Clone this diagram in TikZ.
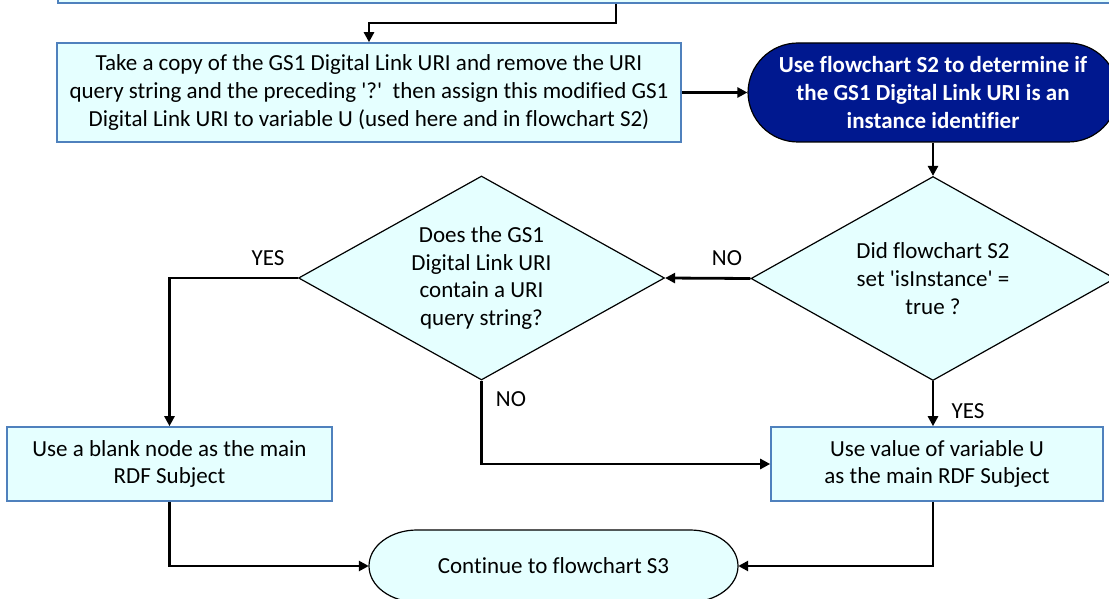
\documentclass[tikz,border=0pt]{standalone}
\usepackage{fontspec}
\setmainfont[Ligatures={TeX,NoCommon}]{Carlito}
\usetikzlibrary{shapes.geometric,arrows.meta}
\definecolor{cyanfill}{RGB}{229,255,255}
\definecolor{boxline}{RGB}{79,129,189}
\definecolor{navyfill}{RGB}{0,24,143}
\begin{document}
\begin{tikzpicture}[x=1pt,y=-1pt,
  font=\fontsize{23}{27.6}\selectfont,
  procbox/.style={draw=boxline,line width=1.6pt,fill=cyanfill,align=center,inner sep=0pt},
  decbox/.style={diamond,draw=black,line width=1.2pt,fill=cyanfill,align=center,inner sep=0pt,aspect=1.79},
  arr/.style={line width=2.8pt,-{Triangle[length=10pt,width=10pt]}},
  lbl/.style={inner sep=0pt}]
\useasboundingbox (0,0) rectangle (1109,599);
\clip (0,0) rectangle (1109,599);
% top (cut-off) box
\node[procbox,minimum width=1055pt,minimum height=60pt,anchor=south west] (top) at (57,4) {};
\node[procbox,minimum width=624pt,minimum height=99pt] (b1) at (369,92.5)
 {Take a copy of the GS1 Digital Link URI and remove the URI\\
  query string and the preceding \textquotesingle?\textquotesingle~~then assign this modified GS1\\
  Digital Link URI to variable U (used here and in flowchart S2)};
\node[draw=black,line width=1.2pt,fill=navyfill,text=white,font=\fontsize{23}{27.6}\selectfont\bfseries,
  rounded corners=50pt,minimum width=370pt,minimum height=99pt,align=center,inner sep=0pt] (t1) at (933,92.5)
 {Use flowchart S2 to determine if\\the GS1 Digital Link URI is an\\instance identifier};
\node[decbox,minimum width=364pt,minimum height=204pt] (d2) at (933,278.5)
 {Did flowchart S2\\set \textquotesingle isInstance\textquotesingle~=\\true ?};
\node[decbox,minimum width=366pt,minimum height=204pt] (d1) at (481.5,278)
 {Does the GS1\\Digital Link URI\\contain a URI\\query string?};
\node[procbox,minimum width=325pt,minimum height=74pt] (b3) at (169.5,464)
 {Use a blank node as the main\\RDF Subject};
\node[procbox,minimum width=332pt,minimum height=74pt] (b4) at (937,464)
 {Use value of variable U\\as the main RDF Subject};
% terminal with elliptical ends
\path[draw=black,line width=1.2pt,fill=cyanfill] (417,530) -- (690,530)
  arc[start angle=-90,end angle=90,x radius=48,y radius=36] -- (417,602)
  arc[start angle=90,end angle=270,x radius=48,y radius=36] -- cycle;
\node[align=center,minimum width=369pt,minimum height=72pt,inner sep=0pt] (t2) at (553.5,566) {Continue to flowchart S3};
% labels
\node[lbl] (yes1) at (268,258) {YES};
\node[lbl] (no1) at (727,258) {NO};
\node[lbl] (no2) at (511,399) {NO};
\node[lbl] (yes2) at (968,411) {YES};
% connectors
\coordinate (ts) at (616,4);
\draw[arr] (ts) -- ++(0,19) -| (b1.north);
\draw[arr] (b1.east) -- (t1.west);
\draw[arr] (t1.south) -- (d2.north);
\draw[arr] (d2.west) -- (d1.east);
\draw[arr] (d1.west) -| (b3.north);
\draw[arr] (d1.south) |- (b4.west);
\draw[arr] (d2.south) -- (d2.south |- b4.north);
\draw[arr] (b3.south) |- (t2.west);
\draw[arr] (d2.south |- b4.south) |- (t2.east);
\end{tikzpicture}
\end{document}
